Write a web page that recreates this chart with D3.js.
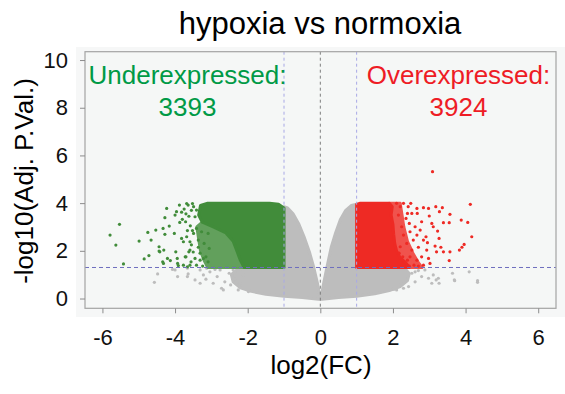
<!DOCTYPE html>
<html>
<head>
<meta charset="utf-8">
<script src="https://cdn.jsdelivr.net/npm/d3@7"></script>
<style>
  html, body { margin: 0; padding: 0; background: #ffffff; }
  svg { display: block; }
  text { font-family: "Liberation Sans", Arial, Helvetica, sans-serif; }
</style>
</head>
<body>
<svg id="chart" width="565" height="394"></svg>
<script>
// ---- data -------------------------------------------------------------
const xTicks = [-6, -4, -2, 0, 2, 4, 6];
const yTicks = [0, 2, 4, 6, 8, 10];
const fcCut = 1;          // |log2(FC)| threshold
const pCut = 1.301;       // -log10(0.05)
const underCount = 3393;
const overCount = 3924;

// dense cores of the point cloud, as outlines [log2FC, -log10 p]
const greyCore = [
  [-2.05, 1.3], [-1.0, 1.3], [-1.0, 3.85], [-0.9, 3.8], [-0.75, 3.55], [-0.6, 3.15],
  [-0.45, 2.6], [-0.3, 1.95], [-0.18, 1.3], [-0.08, 0.65], [-0.02, 0.15], [0.0, 0.04],
  [0.03, 0.15], [0.1, 0.7], [0.18, 1.3], [0.3, 2.15], [0.42, 2.75], [0.55, 3.3],
  [0.7, 3.7], [0.85, 3.9], [1.0, 3.95], [1.0, 1.3], [2.3, 1.3], [2.45, 1.05],
  [2.4, 0.75], [2.2, 0.5], [1.9, 0.33], [1.5, 0.2], [1.0, 0.1], [0.5, 0.04],
  [0.05, -0.03], [-0.05, -0.03], [-0.5, 0.04], [-1.0, 0.1], [-1.5, 0.18], [-1.9, 0.3],
  [-2.2, 0.45], [-2.4, 0.7], [-2.45, 1.0], [-2.3, 1.2]
];
const greenCore = [
  [-1.0, 1.3], [-1.0, 3.8], [-1.15, 3.95], [-1.4, 4.0], [-3.1, 4.0], [-3.3, 3.9],
  [-3.35, 3.5], [-3.25, 3.2], [-2.95, 3.0], [-2.6, 2.75], [-2.4, 2.4], [-2.3, 2.0],
  [-2.2, 1.6], [-2.1, 1.3]
];
const greenFringe = [
  [-2.1, 1.3], [-2.2, 1.6], [-2.3, 2.0], [-2.4, 2.4], [-2.6, 2.75], [-2.95, 3.0],
  [-3.25, 3.2], [-3.4, 3.0], [-3.35, 2.5], [-3.3, 2.0], [-3.2, 1.6], [-3.1, 1.3]
];
const redCore = [
  [1.0, 1.3], [1.0, 3.95], [1.1, 4.0], [1.9, 4.0], [1.98, 3.85], [1.95, 3.5],
  [2.0, 3.1], [2.02, 2.7], [2.05, 2.3], [2.1, 2.0], [2.2, 1.7], [2.35, 1.5], [2.45, 1.3]
];
const redFringe = [
  [2.45, 1.3], [2.35, 1.5], [2.2, 1.7], [2.1, 2.0], [2.05, 2.3], [2.02, 2.7],
  [2.0, 3.1], [1.95, 3.5], [1.98, 3.85], [1.9, 4.0], [2.2, 4.0], [2.25, 3.5],
  [2.3, 3.0], [2.4, 2.4], [2.55, 1.9], [2.7, 1.5], [2.8, 1.3]
];

// individual genes outside the dense cores
const greyPoints = [
  [-4.57, 0.68], [-4.48, 1.03], [-4.07, 1.22], [-3.93, 0.92], [-3.66, 1.27], [-3.64, 1.03],
  [-3.45, 0.78], [-3.31, 0.64], [-3.22, 0.99], [-3.15, 0.81], [-3.04, 1.12], [-2.95, 0.64],
  [-2.84, 0.92], [-2.72, 0.43], [-2.67, 0.36], [-2.63, 0.7], [-2.51, 1.06], [-2.47, 0.57],
  [-2.35, 0.81], [-2.26, 0.36], [-2.21, 0.64], [-2.12, 0.99], [-1.98, 0.29], [-2.4, 1.2],
  [-2.76, 1.2], [-2.9, 1.22], [-3.13, 1.27], [-3.31, 1.2], [-4.0, 1.2], [-3.66, 0.92],
  [2.61, 0.7], [2.79, 0.92], [2.98, 0.85], [3.07, 0.64], [3.25, 0.85], [3.27, 0.64],
  [3.64, 1.06], [3.69, 0.78], [4.1, 1.12], [4.33, 0.75], [4.33, 0.68], [2.88, 1.2],
  [2.7, 1.17], [2.52, 1.06], [2.43, 0.5], [2.29, 0.43], [2.1, 0.36], [3.11, 0.99],
  [2.61, 1.12], [2.24, 0.64], [1.69, 0.29], [2.03, 0.39], [3.19, 0.78], [3.7, 0.75]
];
const greenPoints = [
  [-5.53, 3.11], [-5.79, 2.66], [-5.63, 2.24], [-5.42, 1.45], [-4.99, 2.41], [-4.85, 1.66],
  [-4.72, 1.80], [-4.75, 2.77], [-4.66, 2.45], [-4.53, 2.87], [-4.44, 2.17], [-4.44, 1.99],
  [-4.33, 2.94], [-4.31, 2.03], [-4.23, 3.78], [-4.28, 3.39], [-4.28, 2.69], [-4.34, 1.54],
  [-4.21, 1.68], [-4.13, 1.59], [-4.16, 3.04], [-4.0, 3.5], [-4.02, 2.73], [-3.98, 1.96],
  [-3.94, 1.68], [-3.93, 1.47], [-3.96, 3.64], [-3.88, 3.92], [-3.87, 3.19], [-3.82, 2.52],
  [-3.77, 2.38], [-3.59, 2.03], [-3.62, 1.96], [-3.56, 1.54], [-3.45, 1.68], [-3.36, 2.15],
  [-3.31, 1.61], [-3.68, 2.59], [-3.59, 2.38], [-3.71, 3.22], [-3.64, 3.92], [-3.8, 3.32],
  [-3.49, 3.85], [-3.41, 3.71], [-3.45, 3.43], [-3.41, 2.94], [-3.49, 2.73], [-3.36, 2.45],
  [-3.31, 1.9], [-3.41, 1.4], [-3.24, 1.36], [-3.09, 1.54], [-3.59, 1.4], [-3.77, 1.4],
  [-3.15, 1.75], [-3.06, 2.1], [-3.2, 2.31], [-3.27, 2.8], [-3.09, 2.73], [-3.75, 3.75],
  [-3.7, 3.55], [-3.62, 3.45], [-3.55, 3.7], [-3.58, 3.05], [-3.52, 2.85], [-3.66, 2.85],
  [-3.55, 2.25], [-3.72, 1.75], [-3.5, 1.95], [-3.68, 3.98], [-3.52, 3.98], [-3.82, 3.62],
  [-4.32, 1.47], [-3.91, 1.38], [-3.66, 1.33], [-3.22, 1.68], [-3.7, 1.75], [-4.42, 1.96]
];
const redPoints = [
  [3.09, 5.32], [4.13, 3.95], [4.17, 2.59], [3.88, 3.29], [4.06, 3.19], [3.96, 2.27],
  [3.9, 2.15], [3.83, 2.03], [3.57, 3.53], [3.55, 3.18], [3.57, 1.96], [3.55, 1.59],
  [3.36, 3.81], [3.39, 3.18], [3.32, 2.15], [3.39, 1.96], [3.28, 3.64], [3.18, 3.85],
  [3.23, 2.83], [3.27, 2.52], [3.16, 2.2], [3.2, 1.96], [3.11, 3.01], [3.07, 3.15],
  [3.0, 3.46], [2.98, 3.78], [2.91, 2.59], [2.95, 2.34], [2.93, 2.03], [2.98, 1.68],
  [3.02, 1.47], [2.84, 3.81], [2.79, 3.22], [2.75, 2.87], [2.84, 2.45], [2.79, 1.75],
  [2.66, 3.78], [2.67, 3.57], [2.61, 3.01], [2.66, 2.66], [2.7, 2.15], [2.66, 1.61],
  [2.56, 2.45], [2.52, 2.03], [2.47, 2.8], [2.45, 3.15], [2.49, 3.99], [2.42, 3.85],
  [2.40, 3.57], [2.36, 3.36], [2.38, 2.31], [2.40, 1.61], [2.45, 1.36], [2.29, 3.99],
  [2.24, 3.01], [2.29, 2.66], [2.27, 1.75], [2.2, 3.85], [2.15, 3.5], [2.1, 3.99],
  [2.2, 2.17], [2.17, 1.9], [2.58, 1.4], [2.7, 1.36], [2.84, 1.4], [2.47, 1.75], [2.52, 3.57]
];

// ---- layout -------------------------------------------------------------
const svg = d3.select("#chart");
const box = { left: 85, right: 556, top: 51.7, bottom: 308.3 };

const x = d3.scaleLinear().domain([-6.48, 6.49]).range([box.left, box.right]);
const y = d3.scaleLinear().domain([-0.41, 10.35]).range([box.bottom, box.top]);

const GREY = "#bdbdbd", GREEN = "#418c3a", RED = "#ee2a24";
// loosely packed parts of the coloured clouds (dots with gaps between them)
const GREEN_LOOSE = "#62a05c", RED_LOOSE = "#f0534d";

// panel background
svg.append("rect").attr("x", 76).attr("y", 47).attr("width", 489).attr("height", 270)
  .attr("fill", "#f6f7f7");
svg.append("rect").attr("x", box.left).attr("y", box.top)
  .attr("width", box.right - box.left).attr("height", box.bottom - box.top)
  .attr("fill", "#f5f7f6");

const plot = svg.append("g");
plot.append("clipPath").attr("id", "clip").append("rect")
  .attr("x", box.left).attr("y", box.top)
  .attr("width", box.right - box.left).attr("height", box.bottom - box.top);
const marks = plot.append("g").attr("clip-path", "url(#clip)");

const outline = d3.line().x(d => x(d[0])).y(d => y(d[1])).curve(d3.curveLinearClosed);

function cloud(pts, color) {
  marks.append("path").attr("d", outline(pts))
    .attr("fill", color).attr("stroke", color)
    .attr("stroke-width", 3).attr("stroke-linejoin", "round");
}
function dots(pts, color) {
  marks.append("g").selectAll("circle").data(pts).join("circle")
    .attr("cx", d => x(d[0])).attr("cy", d => y(d[1])).attr("r", 1.6)
    .attr("fill", color);
}

cloud(greyCore, GREY);
dots(greyPoints, GREY);
cloud(greenFringe, GREEN_LOOSE);
cloud(greenCore, GREEN);
dots(greenPoints, GREEN);
cloud(redFringe, RED_LOOSE);
cloud(redCore, RED);
dots(redPoints, RED);

// threshold guides
marks.append("line").attr("x1", x(0)).attr("x2", x(0)).attr("y1", box.top).attr("y2", box.bottom)
  .attr("stroke", "#7d7d7d").attr("stroke-width", 1).attr("stroke-dasharray", "3,3");
[-fcCut, fcCut].forEach(v => {
  marks.append("line").attr("x1", x(v)).attr("x2", x(v)).attr("y1", box.top).attr("y2", box.bottom)
    .attr("stroke", "#a8a8e6").attr("stroke-width", 1).attr("stroke-dasharray", "3,3");
});
marks.append("line").attr("x1", box.left).attr("x2", box.right).attr("y1", y(pCut)).attr("y2", y(pCut))
  .attr("stroke", "#6f6fbf").attr("stroke-width", 1).attr("stroke-dasharray", "4,3");

// frame
svg.append("rect").attr("x", box.left).attr("y", box.top)
  .attr("width", box.right - box.left).attr("height", box.bottom - box.top)
  .attr("fill", "none").attr("stroke", "#a3a3a3").attr("stroke-width", 1.2);

// axes
const xAxis = svg.append("g").attr("transform", `translate(0,${box.bottom})`)
  .call(d3.axisBottom(x).tickValues(xTicks).tickSize(5).tickPadding(16).tickFormat(d3.format("d")));
const yAxis = svg.append("g").attr("transform", `translate(${box.left},0)`)
  .call(d3.axisLeft(y).tickValues(yTicks).tickSize(5).tickPadding(12).tickFormat(d3.format("d")));
[xAxis, yAxis].forEach(a => {
  a.select(".domain").remove();
  a.selectAll(".tick line").attr("stroke", "#8c8c8c");
  a.selectAll(".tick text").attr("fill", "#111").style("font-size", "22px")
    .style("font-family", "'Liberation Sans', Arial, sans-serif");
});
xAxis.selectAll(".tick text").text(d => d < 0 ? "-" + Math.abs(d) : d);

// titles
svg.append("text").attr("x", 320).attr("y", 34).attr("text-anchor", "middle")
  .style("font-size", "31px").attr("fill", "#000").text("hypoxia vs normoxia");
svg.append("text").attr("x", 321).attr("y", 374).attr("text-anchor", "middle")
  .style("font-size", "26px").attr("fill", "#000").text("log2(FC)");
svg.append("text").attr("transform", "translate(33,181) rotate(-90)").attr("text-anchor", "middle")
  .style("font-size", "26px").attr("fill", "#000").text("-log10(Adj. P.Val.)");

// counts of significant genes
const GREEN_TXT = "#009a46", RED_TXT = "#ee1c25";
svg.append("text").attr("x", 187.5).attr("y", 84).attr("text-anchor", "middle")
  .style("font-size", "26px").attr("fill", GREEN_TXT).text("Underexpressed:");
svg.append("text").attr("x", 187.5).attr("y", 116).attr("text-anchor", "middle")
  .style("font-size", "26px").attr("fill", GREEN_TXT).text(underCount);
svg.append("text").attr("x", 458.5).attr("y", 84).attr("text-anchor", "middle")
  .style("font-size", "26px").attr("fill", RED_TXT).text("Overexpressed:");
svg.append("text").attr("x", 458.5).attr("y", 116).attr("text-anchor", "middle")
  .style("font-size", "26px").attr("fill", RED_TXT).text(overCount);
</script>
</body>
</html>
